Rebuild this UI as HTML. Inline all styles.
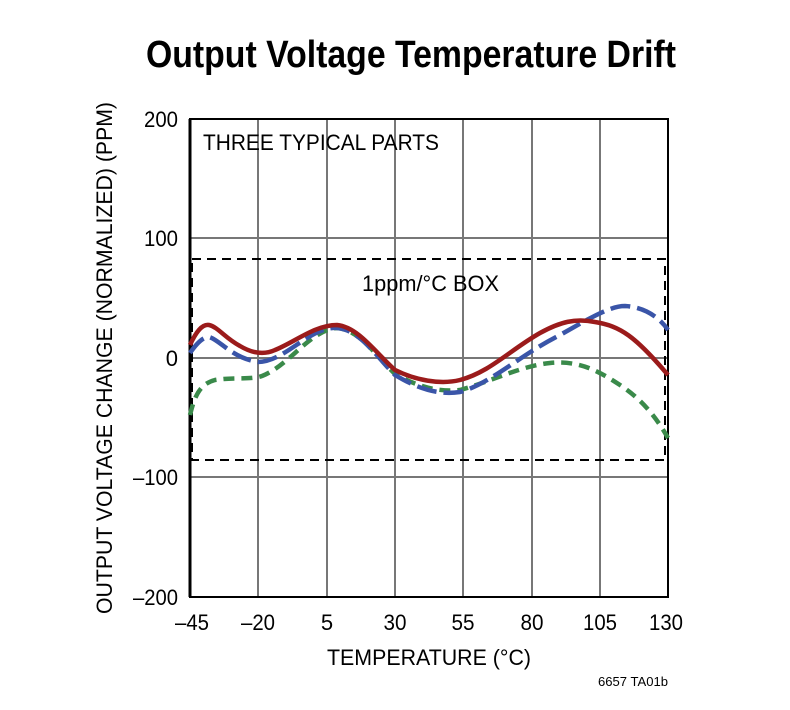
<!DOCTYPE html>
<html><head><style>body{margin:0;background:#fff}</style></head><body>
<svg width="790" height="705" xmlns="http://www.w3.org/2000/svg" font-family="'Liberation Sans Narrow','Liberation Sans',sans-serif">
<text x="411" y="67" text-anchor="middle" font-size="38" font-weight="bold" textLength="530" lengthAdjust="spacingAndGlyphs">Output Voltage Temperature Drift</text>
<g stroke="#777" stroke-width="2">
<line x1="258" y1="119" x2="258" y2="597"/><line x1="327" y1="119" x2="327" y2="597"/><line x1="395" y1="119" x2="395" y2="597"/><line x1="463" y1="119" x2="463" y2="597"/><line x1="532" y1="119" x2="532" y2="597"/><line x1="600" y1="119" x2="600" y2="597"/>
<line x1="190" y1="238" x2="668" y2="238"/><line x1="190" y1="358" x2="668" y2="358"/><line x1="190" y1="477" x2="668" y2="477"/>
</g>
<rect x="190" y="119" width="478" height="478" fill="none" stroke="#000" stroke-width="2"/>
<line x1="190" y1="119" x2="190" y2="597" stroke="#000" stroke-width="3"/>
<rect x="192" y="259" width="473" height="201" fill="none" stroke="#000" stroke-width="2" stroke-dasharray="9,6"/>
<path d="M190,415 C195,395 200,384 215,380 C235,377 250,380 262,376 C290,365 310,330 337,328 C360,330 375,355 395,374 C420,388 440,392 460,390 C490,382 520,366 550,363 C580,360 600,372 620,385 C640,398 655,415 668,438" fill="none" stroke="#3a8a4a" stroke-width="4.5" stroke-dasharray="11,7"/>
<path d="M190,353 C197,343 203,337 209,337 C220,340 232,358 258,362 C285,362 310,326 337,328 C360,330 375,355 395,375 C420,390 440,395 460,392 C490,384 520,355 560,335 C590,318 610,306 625,306 C645,307 660,318 668,330" fill="none" stroke="#3a55a8" stroke-width="4.5" stroke-dasharray="20,7"/>
<path d="M190,345 C196,332 202,324 209,325 C218,327 225,338 240,346 C250,352 262,356 275,350 C295,342 315,325 337,325 C358,327 375,352 395,370 C415,380 440,385 460,380 C490,372 510,350 540,333 C560,322 575,318 595,322 C620,326 635,336 668,375" fill="none" stroke="#9b1b1b" stroke-width="4.5"/>
<g font-size="22" fill="#000" lengthAdjust="spacingAndGlyphs">
<text x="203" y="150" textLength="236" lengthAdjust="spacingAndGlyphs">THREE TYPICAL PARTS</text>
<text x="362" y="291" textLength="137" lengthAdjust="spacingAndGlyphs">1ppm/°C BOX</text>
<g text-anchor="end"><text x="178" y="127" textLength="34" lengthAdjust="spacingAndGlyphs">200</text><text x="178" y="246" textLength="34" lengthAdjust="spacingAndGlyphs">100</text><text x="178" y="366">0</text><text x="178" y="485" textLength="45" lengthAdjust="spacingAndGlyphs">–100</text><text x="178" y="605" textLength="45" lengthAdjust="spacingAndGlyphs">–200</text></g>
<g text-anchor="middle"><text x="192" y="630" textLength="34" lengthAdjust="spacingAndGlyphs">–45</text><text x="258" y="630" textLength="34" lengthAdjust="spacingAndGlyphs">–20</text><text x="327" y="630">5</text><text x="395" y="630" textLength="23" lengthAdjust="spacingAndGlyphs">30</text><text x="463" y="630" textLength="23" lengthAdjust="spacingAndGlyphs">55</text><text x="532" y="630" textLength="23" lengthAdjust="spacingAndGlyphs">80</text><text x="600" y="630" textLength="34" lengthAdjust="spacingAndGlyphs">105</text><text x="666" y="630" textLength="34" lengthAdjust="spacingAndGlyphs">130</text></g>
<text x="429" y="665" text-anchor="middle" textLength="204" lengthAdjust="spacingAndGlyphs">TEMPERATURE (°C)</text>
<text transform="translate(112,358) rotate(-90)" text-anchor="middle" textLength="512" lengthAdjust="spacingAndGlyphs">OUTPUT VOLTAGE CHANGE (NORMALIZED) (PPM)</text>
</g>
<text x="668" y="686" font-size="13" text-anchor="end" textLength="70" lengthAdjust="spacingAndGlyphs">6657 TA01b</text>
</svg>
</body></html>
